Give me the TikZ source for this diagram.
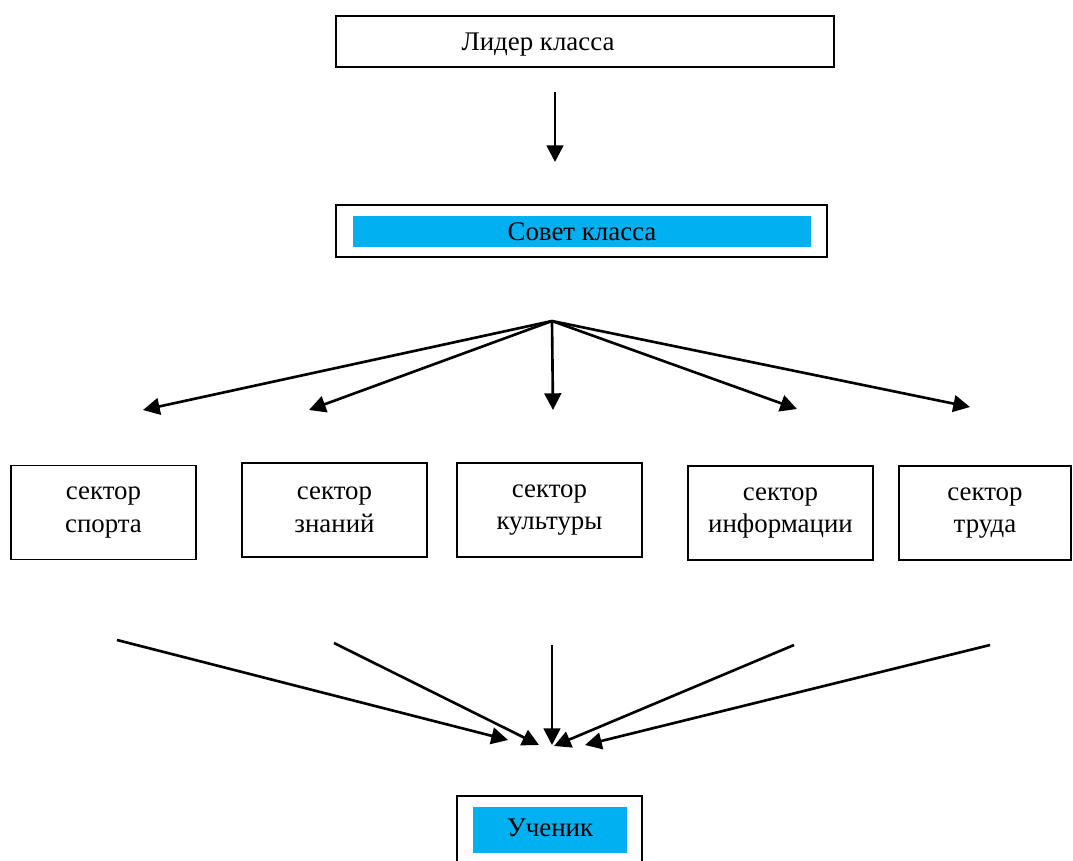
\documentclass[tikz,border=0pt]{standalone}
\usepackage{fontspec}
\setmainfont{Liberation Serif}
\usetikzlibrary{arrows.meta}
\definecolor{goluboj}{RGB}{0,176,240}
\tikzset{
  ramka/.style={draw, line width=1.1pt, inner sep=0pt},
  sektor/.style={ramka, minimum width=3.7cm, minimum height=1.88cm, align=center},
  zalivka/.style={fill=goluboj, inner sep=0pt},
  strelka/.style={line width=1.5pt, -{Triangle[length=9.5pt,width=9.5pt]}},
}
\begin{document}
\begin{tikzpicture}[x=0.02cm, y=-0.02cm, font=\fontsize{15.3}{18.5}\selectfont]
  \useasboundingbox (0,0) rectangle (1073,860);
  % verh
  \node [ramka, minimum width=9.96cm, minimum height=1.02cm,
         label={[xshift=-0.94cm, yshift=-0.06cm]center:Лидер класса}] (lider) at (585,41.5) {};
  \node [ramka, minimum width=9.82cm, minimum height=1.04cm] (sovet) at (581.5,231) {};
  \node [zalivka, minimum width=9.16cm, minimum height=0.62cm] (sovettxt) at (582,231.5) {Совет класса};
  \coordinate (l1) at (555,92);
  \coordinate (l2) at (555,162);
  \draw [strelka] (l1) -- (l2);
  % sektory
  \node [sektor] (sport) at (103.5,512.5) {сектор\\спорта};
  \node [sektor] (znan) at (334.5,510) {сектор\\знаний};
  \node [sektor] (kult) at (549.5,510) {сектор\\культуры};
  \node [sektor] (info) at (780.5,513) {сектор\\информации};
  \node [sektor, minimum width=3.44cm] (trud) at (985,513) {сектор\\труда};
  \coordinate (razv) at (552,321);
  \coordinate (t1) at (143,410);
  \coordinate (t2) at (309,410);
  \coordinate (t3) at (553,410);
  \coordinate (t4) at (797,409);
  \coordinate (t5) at (970,407);
  \foreach \t in {t1,t2,t3,t4,t5}
    \draw [strelka] (razv) -- (\t);
  % niz
  \coordinate (s1) at (117,640);  \coordinate (e1) at (508,740);
  \coordinate (s2) at (334,643);  \coordinate (e2) at (539,745);
  \coordinate (s3) at (552,645);  \coordinate (e3) at (552,745);
  \coordinate (s4) at (794,645);  \coordinate (e4) at (554,746);
  \coordinate (s5) at (990,645);  \coordinate (e5) at (585,745);
  \foreach \i in {1,...,5}
    \draw [strelka] (s\i) -- (e\i);
  \node [ramka, minimum width=3.7cm, minimum height=1.76cm] (uchenik) at (549.5,840) {};
  \node [zalivka, minimum width=3.08cm, minimum height=0.92cm] (uchtxt) at (550,830) {\raisebox{3pt}{Ученик}};
\end{tikzpicture}
\end{document}
